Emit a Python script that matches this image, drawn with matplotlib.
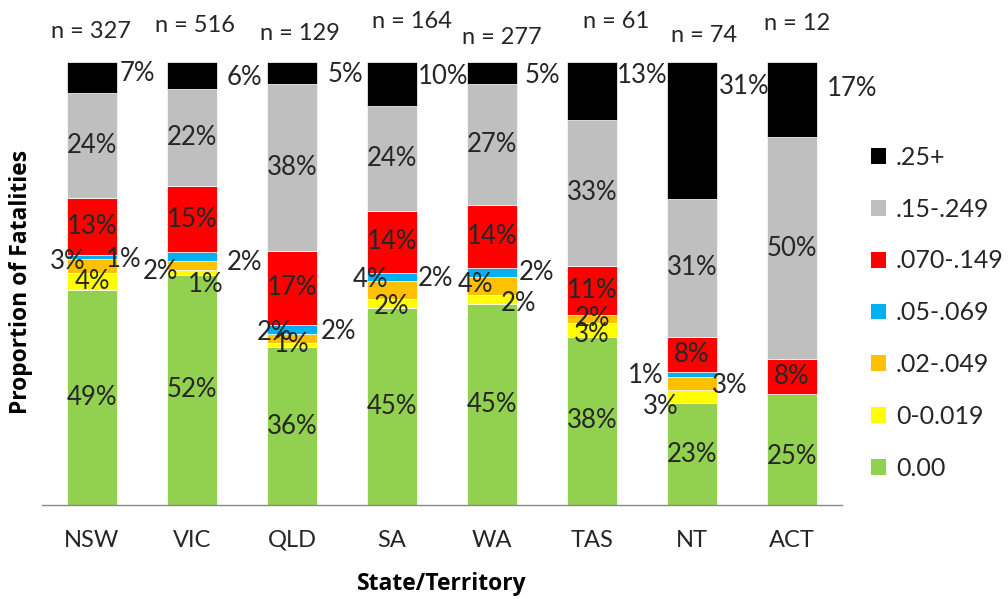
import matplotlib
matplotlib.use('Agg')
import matplotlib.pyplot as plt
from matplotlib.patches import Patch
import numpy as np

# ---- data ----
states = ['NSW', 'VIC', 'QLD', 'SA', 'WA', 'TAS', 'NT', 'ACT']
n_counts = [327, 516, 129, 164, 277, 61, 74, 12]
bands = ['0.00', '0-0.019', '.02-.049', '.05-.069', '.070-.149', '.15-.249', '.25+']
pct_000 = [49, 52, 36, 45, 45, 38, 23, 25]
pct_0_019 = [4, 1, 1, 2, 2, 3, 3, 0]
pct_02_049 = [3, 2, 2, 4, 4, 2, 3, 0]
pct_05_069 = [1, 2, 2, 2, 2, 0, 1, 0]
pct_070_149 = [13, 15, 17, 14, 14, 11, 8, 8]
pct_15_249 = [24, 22, 38, 24, 27, 33, 31, 50]
pct_25plus = [7, 6, 5, 10, 5, 13, 31, 17]

# ---- style ----
colors = ['#92D050', '#FFFF00', '#FFC000', '#00B0F0', '#FF0000', '#BFBFBF', '#000000']
text_color = '#262626'
# label offsets (pixels) relative to segment centre: key (bar index, band index)
label_offsets = {
    (0, 2): (-24, 4), (0, 3): (32, -2), (0, 6): (45, 4),
    (1, 1): (14, -12), (1, 2): (-32, -6), (1, 3): (52, -6), (1, 6): (52, -2),
    (2, 2): (-17, 6), (2, 3): (46, -2), (2, 6): (53, -2),
    (3, 1): (0, -3), (3, 2): (-22, 11), (3, 3): (44, -2), (3, 6): (51, 7),
    (4, 1): (26, -4), (4, 2): (-17, 1), (4, 3): (44, 0), (4, 6): (50, -2),
    (5, 1): (0, -4), (5, 2): (0, 0), (5, 6): (50, 15),
    (6, 1): (-31, -10), (6, 2): (38, -2), (6, 3): (-46, -1), (6, 6): (52, 44),
    (7, 0): (0, -7), (7, 6): (60, 11),
}
n_offsets = [(-1, 31), (3, 37), (8, 28), (20, 41), (10, 24), (24, 41), (12, 26), (5, 39)]

series = [pct_000, pct_0_019, pct_02_049, pct_05_069, pct_070_149, pct_15_249, pct_25plus]
vals = np.array(series, dtype=float)
totals = vals.sum(axis=0)
shares = vals / totals * 100.0

LABEL_FONT = ['Lato', 'DejaVu Sans']
BOLD_FONT = ['Open Sans', 'DejaVu Sans']

fig = plt.figure(figsize=(10.08, 5.99), dpi=100)
ax = fig.add_axes([42 / 1008, 1 - 505 / 599, 800 / 1008, 443 / 599])

x = np.arange(len(states))
bottom = np.zeros(len(states))
for j, band in enumerate(bands):
    ax.bar(x, shares[j], bottom=bottom, width=0.5, color=colors[j],
           edgecolor='white', linewidth=0.5, label=band, zorder=2)
    for i in range(len(states)):
        v = int(vals[j, i])
        if v == 0:
            continue
        yc = bottom[i] + shares[j, i] / 2
        dx, dy = label_offsets.get((i, j), (0, 0))
        ax.annotate(f'{v}%', (x[i], yc), xytext=(dx, dy), textcoords='offset pixels',
                    ha='center', va='center', fontsize=18.5, family=LABEL_FONT,
                    color=text_color, annotation_clip=False, zorder=3)
    bottom += shares[j]

for i, n in enumerate(n_counts):
    dx, dy = n_offsets[i]
    ax.annotate(f'n = {n}', (x[i], 100), xytext=(dx, dy), textcoords='offset pixels',
                ha='center', va='center', fontsize=17, family=LABEL_FONT,
                color=text_color, annotation_clip=False)

ax.set_xlim(-0.5, len(states) - 0.5)
ax.set_ylim(0, 100)
ax.set_xticks(x)
ax.set_xticklabels(states, fontsize=17, family=LABEL_FONT, color=text_color)
ax.tick_params(axis='x', length=0, pad=18)
ax.set_yticks([])
for s in ['left', 'right', 'top']:
    ax.spines[s].set_visible(False)
ax.spines['bottom'].set_color('#898989')
ax.spines['bottom'].set_linewidth(1.0)

ax.set_xlabel('State/Territory', fontsize=16.5, fontweight='bold', family=BOLD_FONT,
              color='black', labelpad=15)
fig.text(21 / 1008, 1 - 282 / 599, 'Proportion of Fatalities', rotation=90,
         ha='center', va='center', fontsize=16.5, fontweight='bold', family=BOLD_FONT,
         color='black')

handles = [Patch(facecolor=colors[j], edgecolor='none') for j in range(len(bands))][::-1]
leg = fig.legend(handles, bands[::-1], loc='upper left',
                 bbox_to_anchor=(871 / 1008, 1 - 146 / 599), bbox_transform=fig.transFigure,
                 frameon=False, handlelength=0.6, handleheight=0.6,
                 handletextpad=0.4, labelspacing=1.15, borderpad=0, borderaxespad=0,
                 prop={'family': LABEL_FONT, 'size': 18})
for t in leg.get_texts():
    t.set_color(text_color)

fig.savefig('out.png', dpi=100)
